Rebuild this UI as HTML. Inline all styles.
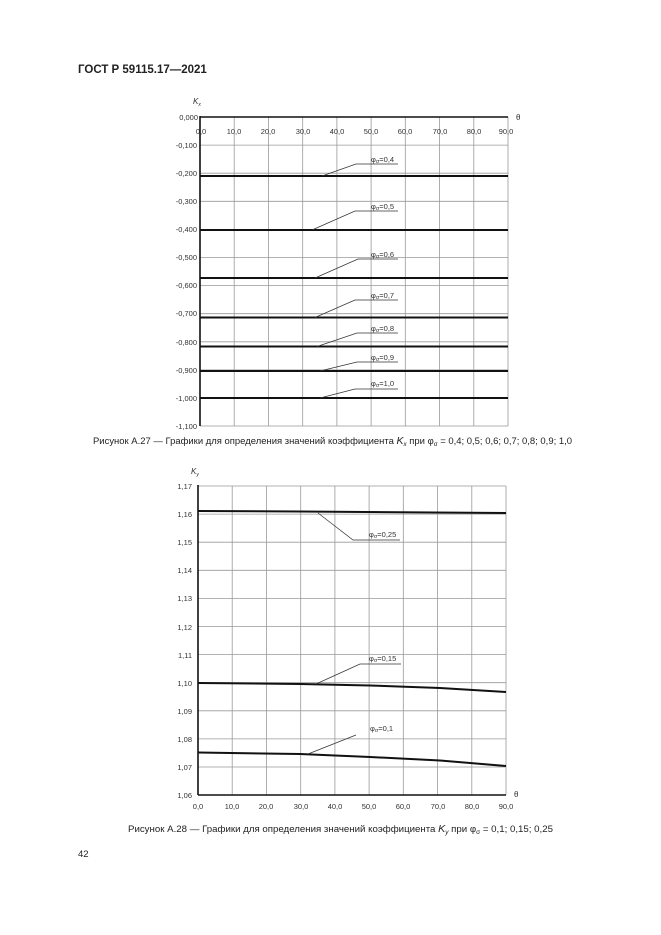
<!DOCTYPE html>
<html><head><meta charset="utf-8"><style>
body{margin:0;background:#fff;}
svg{display:block;font-family:"Liberation Sans",sans-serif;}
</style></head><body>
<svg width="661" height="935" viewBox="0 0 661 935" xmlns="http://www.w3.org/2000/svg">
<text x="78" y="73" font-size="11.5" font-weight="bold" fill="#222">ГОСТ Р 59115.17—2021</text>

<!-- TOP CHART -->
<g stroke="#999" stroke-width="0.8">
<line x1="234.2" y1="117" x2="234.2" y2="426"/><line x1="268.4" y1="117" x2="268.4" y2="426"/>
<line x1="302.7" y1="117" x2="302.7" y2="426"/><line x1="336.9" y1="117" x2="336.9" y2="426"/>
<line x1="371.1" y1="117" x2="371.1" y2="426"/><line x1="405.3" y1="117" x2="405.3" y2="426"/>
<line x1="439.6" y1="117" x2="439.6" y2="426"/><line x1="473.8" y1="117" x2="473.8" y2="426"/>
<line x1="508" y1="117" x2="508" y2="426"/>
<line x1="200" y1="145.1" x2="508" y2="145.1"/><line x1="200" y1="173.2" x2="508" y2="173.2"/>
<line x1="200" y1="201.3" x2="508" y2="201.3"/><line x1="200" y1="229.4" x2="508" y2="229.4"/>
<line x1="200" y1="257.5" x2="508" y2="257.5"/><line x1="200" y1="285.6" x2="508" y2="285.6"/>
<line x1="200" y1="313.7" x2="508" y2="313.7"/><line x1="200" y1="341.8" x2="508" y2="341.8"/>
<line x1="200" y1="369.9" x2="508" y2="369.9"/><line x1="200" y1="398" x2="508" y2="398"/>
<line x1="200" y1="426" x2="508" y2="426"/>
</g>
<g stroke="#111" stroke-width="1.6">
<line x1="200" y1="117" x2="508" y2="117"/><line x1="200" y1="116" x2="200" y2="426"/>
</g>
<g stroke="#111" stroke-width="2">
<line x1="200" y1="176" x2="508" y2="176"/><line x1="200" y1="230" x2="508" y2="230"/>
<line x1="200" y1="278" x2="508" y2="278"/><line x1="200" y1="317.5" x2="508" y2="317.5"/>
<line x1="200" y1="346.5" x2="508" y2="346.5"/><line x1="200" y1="371" x2="508" y2="371"/>
<line x1="200" y1="398" x2="508" y2="398"/>
</g>
<g stroke="#333" stroke-width="0.7" fill="none">
<polyline points="322,176 356,164 398,164"/>
<polyline points="312,230 355,211 398,211"/>
<polyline points="315,278 358,259 398,259"/>
<polyline points="315,317.5 355,300 398,300"/>
<polyline points="317,346.5 357,333 398,333"/>
<polyline points="320,371 357,362 398,362"/>
<polyline points="320,398 355,389 398,389"/>
</g>
<g font-size="7.5" fill="#333">
<text x="371" y="162">φ<tspan font-size="5.5" dy="1">σ</tspan><tspan dy="-1">=0,4</tspan></text>
<text x="371" y="209">φ<tspan font-size="5.5" dy="1">σ</tspan><tspan dy="-1">=0,5</tspan></text>
<text x="371" y="257">φ<tspan font-size="5.5" dy="1">σ</tspan><tspan dy="-1">=0,6</tspan></text>
<text x="371" y="298">φ<tspan font-size="5.5" dy="1">σ</tspan><tspan dy="-1">=0,7</tspan></text>
<text x="371" y="331">φ<tspan font-size="5.5" dy="1">σ</tspan><tspan dy="-1">=0,8</tspan></text>
<text x="371" y="360">φ<tspan font-size="5.5" dy="1">σ</tspan><tspan dy="-1">=0,9</tspan></text>
<text x="371" y="386">φ<tspan font-size="5.5" dy="1">σ</tspan><tspan dy="-1">=1,0</tspan></text>
</g>
<g font-size="7.5" fill="#333" text-anchor="middle">
<text x="201" y="134">0,0</text><text x="234" y="134">10,0</text><text x="268" y="134">20,0</text>
<text x="303" y="134">30,0</text><text x="337" y="134">40,0</text><text x="371" y="134">50,0</text>
<text x="405" y="134">60,0</text><text x="440" y="134">70,0</text><text x="474" y="134">80,0</text>
<text x="506" y="134">90,0</text>
</g>
<text x="516" y="120" font-size="8" fill="#333">θ</text>
<text x="193" y="104" font-size="8" fill="#333" font-style="italic">K<tspan font-size="5" dy="2">x</tspan></text>
<g font-size="7.5" fill="#333" text-anchor="end">
<text x="198" y="120">0,000</text><text x="197" y="148">-0,100</text><text x="197" y="176">-0,200</text>
<text x="197" y="204">-0,300</text><text x="197" y="232">-0,400</text><text x="197" y="260">-0,500</text>
<text x="197" y="288">-0,600</text><text x="197" y="316">-0,700</text><text x="197" y="345">-0,800</text>
<text x="197" y="373">-0,900</text><text x="197" y="401">-1,000</text><text x="197" y="429">-1,100</text>
</g>
<text x="93" y="444" font-size="9" fill="#222" textLength="479" lengthAdjust="spacingAndGlyphs">Рисунок А.27 — Графики для определения значений коэффициента <tspan font-style="italic" font-size="10">K</tspan><tspan font-size="6" dy="2" font-style="italic">x</tspan><tspan dy="-2"> при φ</tspan><tspan font-size="6" dy="2">σ</tspan><tspan dy="-2"> = 0,4; 0,5; 0,6; 0,7; 0,8; 0,9; 1,0</tspan></text>

<!-- BOTTOM CHART -->
<g stroke="#999" stroke-width="0.8">
<line x1="232.2" y1="486" x2="232.2" y2="795"/><line x1="266.4" y1="486" x2="266.4" y2="795"/>
<line x1="300.7" y1="486" x2="300.7" y2="795"/><line x1="334.9" y1="486" x2="334.9" y2="795"/>
<line x1="369.1" y1="486" x2="369.1" y2="795"/><line x1="403.3" y1="486" x2="403.3" y2="795"/>
<line x1="437.6" y1="486" x2="437.6" y2="795"/><line x1="471.8" y1="486" x2="471.8" y2="795"/>
<line x1="506" y1="486" x2="506" y2="795"/>
<line x1="198" y1="486" x2="506" y2="486"/><line x1="198" y1="514.1" x2="506" y2="514.1"/>
<line x1="198" y1="542.2" x2="506" y2="542.2"/><line x1="198" y1="570.3" x2="506" y2="570.3"/>
<line x1="198" y1="598.4" x2="506" y2="598.4"/><line x1="198" y1="626.5" x2="506" y2="626.5"/>
<line x1="198" y1="654.6" x2="506" y2="654.6"/><line x1="198" y1="682.7" x2="506" y2="682.7"/>
<line x1="198" y1="710.8" x2="506" y2="710.8"/><line x1="198" y1="738.9" x2="506" y2="738.9"/>
<line x1="198" y1="767" x2="506" y2="767"/>
</g>
<g stroke="#111" stroke-width="1.6">
<line x1="198" y1="485" x2="198" y2="795"/><line x1="198" y1="795" x2="506" y2="795"/>
</g>
<g stroke="#111" stroke-width="2" fill="none">
<polyline points="198,511 300,511.5 506,513"/>
<polyline points="198,683 300,684 370,685.5 440,688 506,692"/>
<polyline points="198,752.5 300,754 370,757 440,760.5 506,766"/>
</g>
<g stroke="#333" stroke-width="0.7" fill="none">
<polyline points="318,513 353,540 400,540"/>
<polyline points="316,684 360,664 401,664"/>
<polyline points="308,754 356,735"/>
</g>
<g font-size="7.5" fill="#333">
<text x="369" y="537">φ<tspan font-size="5.5" dy="1">σ</tspan><tspan dy="-1">=0,25</tspan></text>
<text x="369" y="661">φ<tspan font-size="5.5" dy="1">σ</tspan><tspan dy="-1">=0,15</tspan></text>
<text x="370" y="731">φ<tspan font-size="5.5" dy="1">σ</tspan><tspan dy="-1">=0,1</tspan></text>
</g>
<text x="191" y="474" font-size="8" fill="#333" font-style="italic">K<tspan font-size="5" dy="2">y</tspan></text>
<g font-size="7.5" fill="#333" text-anchor="end">
<text x="192" y="489">1,17</text><text x="192" y="517">1,16</text><text x="192" y="545">1,15</text>
<text x="192" y="573">1,14</text><text x="192" y="601">1,13</text><text x="192" y="630">1,12</text>
<text x="192" y="658">1,11</text><text x="192" y="686">1,10</text><text x="192" y="714">1,09</text>
<text x="192" y="742">1,08</text><text x="192" y="770">1,07</text><text x="192" y="798">1,06</text>
</g>
<g font-size="7.5" fill="#333" text-anchor="middle">
<text x="198" y="809">0,0</text><text x="232" y="809">10,0</text><text x="266" y="809">20,0</text>
<text x="301" y="809">30,0</text><text x="335" y="809">40,0</text><text x="369" y="809">50,0</text>
<text x="403" y="809">60,0</text><text x="438" y="809">70,0</text><text x="472" y="809">80,0</text>
<text x="506" y="809">90,0</text>
</g>
<text x="514" y="797" font-size="8" fill="#333">θ</text>
<text x="128" y="832" font-size="9" fill="#222" textLength="425" lengthAdjust="spacingAndGlyphs">Рисунок А.28 — Графики для определения значений коэффициента <tspan font-style="italic" font-size="10">K</tspan><tspan font-size="6" dy="2" font-style="italic">y</tspan><tspan dy="-2"> при φ</tspan><tspan font-size="6" dy="2">σ</tspan><tspan dy="-2"> = 0,1; 0,15; 0,25</tspan></text>

<text x="78" y="857" font-size="9.5" fill="#222">42</text>
</svg>
</body></html>
